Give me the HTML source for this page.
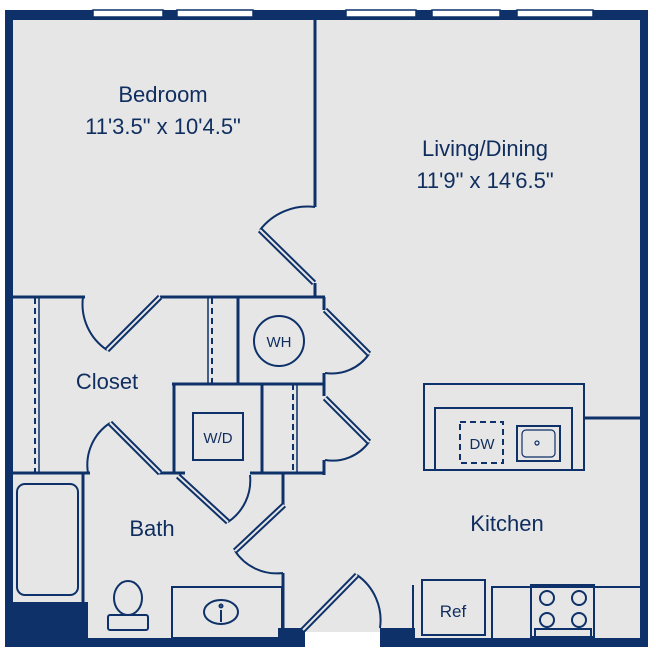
<!DOCTYPE html>
<html><head><style>html,body{margin:0;padding:0;background:#fff}svg{display:block}
text{font-family:"Liberation Sans",sans-serif;fill:#0f2d5e}</style></head><body>
<svg width="656" height="657" viewBox="0 0 656 657" xmlns="http://www.w3.org/2000/svg">
<rect x="5" y="10" width="643" height="10" fill="#0d3168"/>
<rect x="13" y="20" width="627" height="618" fill="#e6e6e6"/>
<rect x="305" y="632" width="75" height="25" fill="#fff"/>
<g fill="#fff" stroke="#0d3168" stroke-width="1.5">
<rect x="93" y="10" width="70" height="7"/><rect x="177" y="10" width="76" height="7"/>
<rect x="346" y="10" width="70" height="7"/><rect x="432" y="10" width="68" height="7"/><rect x="517" y="10" width="76" height="7"/>
</g>
<g fill="#0d3168">
<rect x="5" y="10" width="8" height="637"/>
<rect x="640" y="10" width="8" height="637"/>
<rect x="5" y="602" width="83" height="45"/>
<rect x="5" y="638" width="300" height="9"/>
<rect x="278" y="628" width="27" height="19"/>
<rect x="380" y="628" width="35" height="19"/>
<rect x="380" y="638" width="268" height="9"/>
</g>
<g fill="none" stroke="#0d3168" stroke-width="3">
<line x1="315" y1="20" x2="315" y2="207"/>
<line x1="315" y1="283" x2="315" y2="297"/>
<path d="M13 297H85M160 297H325"/>
<path d="M324 297V310M324 373V385"/>
<path d="M172 384H325"/>
<path d="M174 384V473"/><path d="M262 384V473"/><path d="M238 297V384"/>
<path d="M324 384V396M324 460V475"/>
<path d="M13 473H90M158 473H185M250 473H325"/>
<path d="M83 473V602"/>
<path d="M283 473V505M283 573V630"/>
<path d="M584 418H640"/>
</g>
<g fill="none" stroke="#0d3168" stroke-width="2">
<path d="M315 207A60 60 0 0 0 260 230"/>
<path d="M83 297A55 55 0 0 0 107 350"/>
<path d="M325 373A45 45 0 0 0 369 354"/>
<path d="M325 460A45 45 0 0 0 369 442"/>
<path d="M110 423A50 50 0 0 0 88 473"/>
<path d="M228 522A50 50 0 0 0 250 475"/>
<path d="M235 551A50 50 0 0 0 283 573"/>
<path d="M357 575A55 55 0 0 1 380 628"/>
<line x1="35" y1="298" x2="35" y2="473" stroke-dasharray="6 4"/>
<line x1="39" y1="298" x2="39" y2="473" stroke-width="1.5"/>
<line x1="212" y1="298" x2="212" y2="384" stroke-dasharray="6 4"/>
<line x1="208" y1="298" x2="208" y2="384" stroke-width="1.5"/>
<line x1="293" y1="384" x2="293" y2="473" stroke-dasharray="6 4"/>
<line x1="297" y1="384" x2="297" y2="473" stroke-width="1.5"/>
<circle cx="279" cy="341" r="25"/>
<rect x="193" y="413" width="50" height="47"/>
<rect x="17" y="484" width="61" height="111" rx="8"/>
<ellipse cx="128" cy="598" rx="14" ry="17"/>
<rect x="108" y="615" width="40" height="15" rx="2"/>
<rect x="172" y="587" width="110" height="51"/>
<ellipse cx="221" cy="612" rx="17" ry="12"/>
<line x1="221" y1="610" x2="221" y2="622"/><circle cx="221" cy="606" r="1.5"/>
<rect x="424" y="384" width="160" height="86"/>
<rect x="435" y="408" width="137" height="62"/>
<rect x="460" y="422" width="43" height="41" stroke-dasharray="6 4"/>
<rect x="517" y="426" width="43" height="35"/>
<rect x="522" y="430" width="33" height="27" rx="4" stroke-width="1.2"/>
<circle cx="537" cy="443" r="2" stroke-width="1.2"/>
<line x1="413" y1="585" x2="413" y2="630"/>
<rect x="422" y="580" width="63" height="55"/>
<path d="M492 638V587H640"/>
<rect x="531" y="585" width="63" height="52"/>
<circle cx="547" cy="598" r="7"/><circle cx="579" cy="598" r="7"/>
<circle cx="547" cy="620" r="7"/><circle cx="579" cy="620" r="7"/>
<rect x="535" y="629" width="56" height="8"/>
</g>
<g stroke="#0d3168" stroke-width="6" fill="none"><path d="M260 230L314 283M160 297L107 350M325 310L369 354M325 398L369 442M110 423L160 473M178 476L228 522M284 505L235 551M303 630L357 575"/></g>
<g stroke="#e6e6e6" stroke-width="2" fill="none"><path d="M260 230L314 283M160 297L107 350M325 310L369 354M325 398L369 442M110 423L160 473M178 476L228 522M284 505L235 551M303 630L357 575"/></g>
<g font-size="22" text-anchor="middle">
<text x="163" y="102">Bedroom</text>
<text x="163" y="134">11'3.5" x 10'4.5"</text>
<text x="485" y="156">Living/Dining</text>
<text x="485" y="188">11'9" x 14'6.5"</text>
<text x="107" y="389">Closet</text>
<text x="152" y="536">Bath</text>
<text x="507" y="531">Kitchen</text>
<text x="279" y="347" font-size="15">WH</text>
<text x="218" y="443" font-size="15">W/D</text>
<text x="482" y="449" font-size="15">DW</text>
<text x="453" y="617" font-size="17">Ref</text>
</g>
</svg>
</body></html>
